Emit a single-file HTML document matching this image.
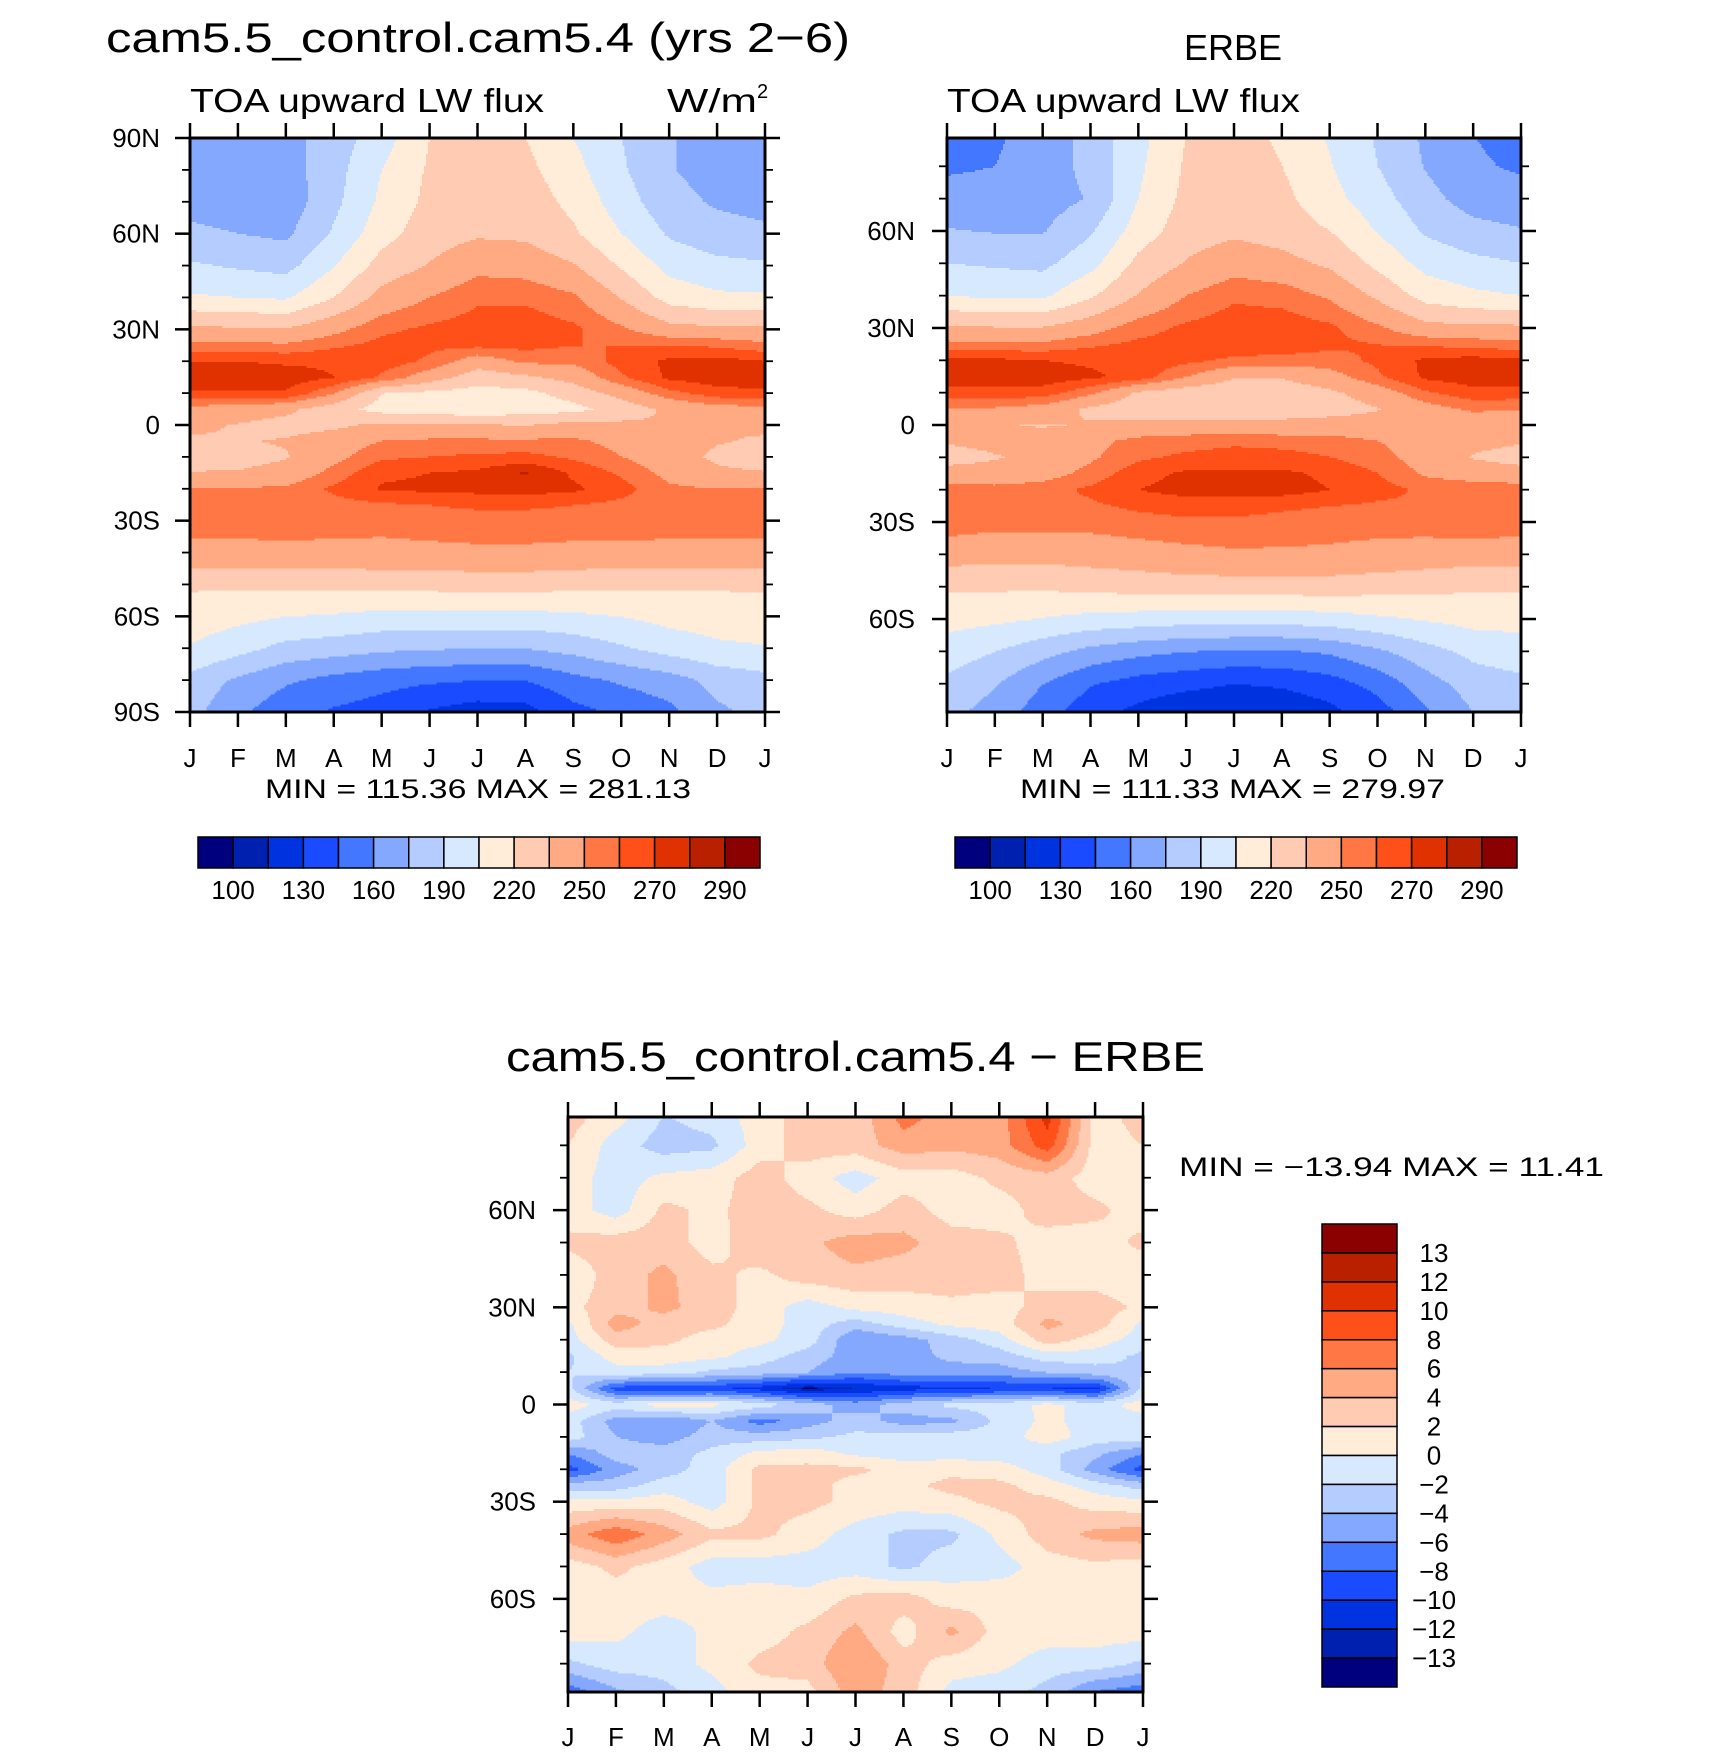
<!DOCTYPE html>
<html><head><meta charset="utf-8"><style>
html,body{margin:0;padding:0;background:#fff;}
svg{display:block;font-family:"Liberation Sans",sans-serif;}
</style></head><body>
<svg id="root" width="1710" height="1752" viewBox="0 0 1710 1752" xmlns="http://www.w3.org/2000/svg">
<text x="106" y="52" font-size="42" textLength="744" lengthAdjust="spacingAndGlyphs">cam5.5_control.cam5.4 (yrs 2−6)</text>
<text x="1233" y="60" font-size="36" text-anchor="middle">ERBE</text>
<text x="190" y="112" font-size="33" textLength="354" lengthAdjust="spacingAndGlyphs">TOA upward LW flux</text>
<text x="667" y="112" font-size="33" textLength="90" lengthAdjust="spacingAndGlyphs">W/m</text>
<text x="757" y="98" font-size="20">2</text>
<text x="947" y="112" font-size="33" textLength="353" lengthAdjust="spacingAndGlyphs">TOA upward LW flux</text>
<text x="265" y="798" font-size="27" textLength="426" lengthAdjust="spacingAndGlyphs">MIN = 115.36 MAX = 281.13</text>
<text x="1020" y="798" font-size="27" textLength="425" lengthAdjust="spacingAndGlyphs">MIN = 111.33 MAX = 279.97</text>
<text x="506" y="1071" font-size="42" textLength="699" lengthAdjust="spacingAndGlyphs">cam5.5_control.cam5.4 − ERBE</text>
<text x="1179" y="1176" font-size="27" textLength="425" lengthAdjust="spacingAndGlyphs">MIN = −13.94 MAX =  11.41</text>
<g id="plots"></g>
</svg>
<script>
const months = ["J","F","M","A","M","J","J","A","S","O","N","D","J"];
const lats = [90,80,70,60,50,40,30,25,20,15,10,5,0,-5,-10,-15,-20,-25,-30,-40,-50,-60,-70,-80,-90];
const fieldLevels = [100,115,130,145,160,175,190,205,220,235,250,260,270,280,290];
const fieldLevelLabels = ["100","130","160","190","220","250","270","290"];
const diffLevels = [-13,-12,-10,-8,-6,-4,-2,0,2,4,6,8,10,12,13];
const diffLevelLabels = ["13","12","10","8","6","4","2","0","−2","−4","−6","−8","−10","−12","−13"];
const palette = ["#00007f","#0020b0","#0033e0","#1a4bff","#4477ff","#85a8ff","#b4ccff","#d6e9ff","#ffecd9","#ffcbb2","#ffaa82","#ff7744","#ff5019","#e03200","#b82000","#8b0000"];
const latTicksModel = ["90N","60N","30N","0","30S","60S","90S"];
const latTickValsModel = [90,60,30,0,-30,-60,-90];
const latTicksObs = ["60N","30N","0","30S","60S"];
const latTickValsObs = [60,30,0,-30,-60];

const modelData = [
[165,165,170,182,198,220,226,220,205,190,176,168,165],
[166,166,168,184,205,222,228,224,210,192,176,169,166],
[170,168,166,186,208,224,230,228,216,197,180,173,170],
[178,175,172,192,214,228,233,232,222,205,188,181,178],
[192,188,185,204,226,236,246,244,236,218,200,194,192],
[207,205,203,220,240,250,258,258,252,234,214,208,207],
[238,237,236,246,258,262,265,266,262,252,240,238,238],
[253,253,252,258,263,262,262,263,260,260,260,258,253],
[270,270,268,268,265,258,242,252,252,264,272,274,270],
[276,277,276,270,258,242,226,232,240,258,272,276,276],
[268,268,268,250,220,216,214,215,226,240,256,265,268],
[245,242,238,226,214,211,210,212,215,226,238,244,245],
[238,234,230,232,238,236,236,234,240,238,236,236,238],
[233,234,236,242,250,252,252,252,252,246,242,236,233],
[226,230,234,246,258,260,262,263,258,250,242,232,226],
[236,236,240,254,268,270,272,281,268,258,246,238,236],
[250,251,252,262,271,272,273,274,272,264,252,250,250],
[254,254,255,256,258,260,262,262,260,257,254,254,254],
[255,255,256,255,254,255,255,255,255,255,255,255,255],
[246,246,246,246,246,247,248,248,247,247,246,246,246],
[222,222,223,224,225,225,226,226,224,223,222,222,222],
[213,209,205,203,200,200,200,200,202,205,210,212,213],
[204,195,185,182,178,176,175,175,180,188,196,202,204],
[185,172,162,155,150,147,145,145,155,162,168,180,185],
[180,163,150,143,138,128,122,124,140,148,156,172,180]
];
const obsData = [
[155,158,166,180,200,220,224,218,203,188,172,160,155],
[158,160,166,180,202,222,226,220,206,190,174,162,158],
[165,165,168,176,205,224,228,224,210,196,180,168,165],
[176,174,174,188,212,228,232,228,220,204,188,180,176],
[190,188,186,200,224,236,244,240,232,216,200,194,190],
[205,202,202,218,236,250,258,256,248,232,214,208,205],
[238,236,236,244,256,262,266,266,262,252,240,238,238],
[253,252,252,258,262,264,266,266,262,260,258,256,253],
[272,272,270,268,266,262,258,256,256,262,272,274,272],
[276,276,276,272,266,250,236,236,244,258,272,276,276],
[266,266,265,252,232,226,224,226,232,242,258,266,266],
[250,248,244,232,226,224,226,226,228,234,244,252,250],
[240,236,234,236,238,240,240,240,242,242,240,240,240],
[236,238,240,246,254,256,258,256,254,250,244,238,236],
[230,234,238,248,258,262,264,264,260,254,244,234,230],
[240,240,244,254,266,272,272,272,268,260,248,242,240],
[256,254,256,262,270,274,274,274,270,264,258,258,256],
[259,256,256,258,262,264,264,262,260,258,258,260,259],
[256,254,254,254,256,258,258,256,254,254,255,258,256],
[242,240,240,242,244,246,248,248,248,246,244,242,242],
[222,222,222,224,226,228,228,228,228,226,224,222,222],
[210,208,204,200,198,196,196,196,198,202,206,210,210],
[198,190,180,170,164,160,158,158,162,172,184,194,198],
[186,176,160,146,138,134,130,132,138,150,168,182,186],
[178,168,150,134,124,116,112,116,124,136,156,174,178]
];
const diffData = [
[3,1,-2,-1,1,3,2.5,7,5,5,11,1,3],
[2,-1,-3,-2.5,1,3,3,5,4.5,5,9,1,2],
[1,-1,0.5,1,3,1,-1,1,1,2.5,3,1,1],
[1,-1,2.5,1.5,3,2.5,1,3,1,1,3,2.5,1],
[2.5,3,3,1,3.5,3.5,5,4.5,3,2.5,1,1,2.5],
[0.5,3,4.5,2.5,1.5,3,3.5,3,3,3,1,1,0.5],
[1.5,3,4.5,3,1,-1,0.5,1,1.5,1,3,3,1.5],
[-0.5,5,3,2.5,1,-1,-3,-1,0.5,1,4.5,3,-0.5],
[-1,3,2.5,1,0.5,-1,-6,-5,-3,-1,3,1,-1],
[-2.5,1,1,0.5,-1,-3,-5,-5,-3.5,-3,-1,-1,-2.5],
[-2,-1,-1,-2.5,-3,-4,-6,-5,-5,-5,-4,-3,-2],
[-1.5,-9,-10,-9.5,-11,-13.5,-12,-11,-10.5,-10,-10,-11,-1.5],
[1,-1,1,0.5,-1,-3,-5,-3,-1.5,-1,0.5,-1,1],
[-1,-5,-6,-4,-7,-5,-3,-5,-4.5,-1.5,0.5,-1,-1],
[-1,-4,-5,-3,-3,-2.5,-1.5,-1,-1,-1,1,-1,-1],
[-6,-3,-3,-1.5,0.5,1,-0.5,-1,-1,-1,-1.5,-3.5,-6],
[-9,-5,-3,-1,2.5,2.5,2.5,1,1.5,1,-1,-5,-9],
[-3,-3,-1,-1,2.5,3,1,1.5,2.5,2.5,1,-1,-3],
[0.5,0.5,1,-1,2.5,2.5,1.5,1,1.5,2.5,2.5,1,0.5],
[5,7.5,5,2.5,2.5,1,-1,-2.5,-2.5,0.5,3,4.5,5],
[1,2.5,1,-1,-1,-1,-1,-2.5,-1,-1,1,1.5,1],
[0.5,1,1,0.5,1,0.5,2.5,3,1,1.5,1,1,0.5],
[1,0.5,-1,0.5,1,2.5,4.5,1,4.5,1,1,1,1],
[-2.5,-1,-1,0.5,2.5,3,6,3,1,0.5,-1,-1,-2.5],
[-8,-5,-3,-1,1,1,5,3,-1,-1.5,-3,-7,-8]
];

const NS = "http://www.w3.org/2000/svg";
const plots = document.getElementById('plots');
function mk(tag, attrs, parent){ const e=document.createElementNS(NS,tag); for(const k in attrs) e.setAttribute(k,attrs[k]); (parent||plots).appendChild(e); return e; }
function levelIndex(v, levels){ let i=0; while(i<levels.length && v>=levels[i]) i++; return i; }
function sample(data, mon, lat){
  let la = Math.max(-90, Math.min(90, lat));
  let r=0; while(r<lats.length-2 && la < lats[r+1]) r++;
  const t = (lats[r]-la)/(lats[r]-lats[r+1]);
  let m = Math.max(0, Math.min(12, mon)); let c = Math.min(11, Math.floor(m)); const s = m-c;
  const a = data[r][c]*(1-s)+data[r][c+1]*s;
  const b = data[r+1][c]*(1-s)+data[r+1][c+1]*s;
  return a*(1-t)+b*t;
}
function drawField(name, data, levels, x0, y0, w, h, latTop, latBot){
  const g = mk('g',{});
  
  
  const step=2;
  const paths = palette.map(()=>[]);
  for(let py=0; py<h; py+=step){
    const lat = latTop - (py+step/2)/h*(latTop-latBot);
    const hh = Math.min(step, h-py) + 0.6;
    let runStart=0, runIdx=-1;
    for(let px=0; ; px+=step){
      const end = px>=w;
      let idx=-2;
      if(!end){ const mon=Math.min(px+step/2,w)/w*12; idx=levelIndex(sample(data,mon,lat),levels); }
      if(idx!==runIdx){
        if(runIdx>=0){
          const ww = Math.min(px,w)-runStart+0.6;
          paths[runIdx].push('M'+(x0+runStart)+' '+(y0+py)+'h'+ww.toFixed(1)+'v'+hh.toFixed(1)+'h'+(-ww).toFixed(1)+'z');
        }
        runStart=px; runIdx=idx;
      }
      if(end) break;
    }
  }
  paths.forEach((p,i)=>{
    if(!p.length) return;
    const e = mk('path',{d:p.join(''),fill:palette[i],'shape-rendering':'crispEdges'},g);
    
    
  });
}
function drawAxes(name, x0,y0,w,h, latTop, latBot, tickLabels, tickVals, labelX, monthY){
  const g = mk('g',{});
  
  
  const yS = l => y0 + (latTop-l)/(latTop-latBot)*h;
  mk('rect',{x:x0,y:y0,width:w,height:h,fill:'none',stroke:'#000','stroke-width':3},g);
  for(let i=0;i<=12;i++){
    const x = x0 + i*w/12;
    mk('line',{x1:x,y1:y0-15,x2:x,y2:y0,stroke:'#000','stroke-width':2.5},g);
    mk('line',{x1:x,y1:y0+h,x2:x,y2:y0+h+15,stroke:'#000','stroke-width':2.5},g);
    const t = mk('text',{x:x,y:monthY,'font-size':26,'text-anchor':'middle'},g);
    t.textContent = months[i];
    
    
  }
  for(let l=-90;l<=90;l+=10){
    if(l>latTop+0.01 || l<latBot-0.01) continue;
    const y = yS(l); const major = (l%30===0);
    const len = major?15:8;
    mk('line',{x1:x0-len,y1:y,x2:x0,y2:y,stroke:'#000','stroke-width':major?2.5:1.8},g);
    mk('line',{x1:x0+w,y1:y,x2:x0+w+len,y2:y,stroke:'#000','stroke-width':major?2.5:1.8},g);
  }
  tickVals.forEach((v,i)=>{
    const t = mk('text',{x:labelX,y:yS(v)+9,'font-size':26,'text-anchor':'end'},g);
    t.textContent = tickLabels[i];
    
    
  });
}
function hColorbar(name, x0,y0,w,h, labels){
  const g = mk('g',{});
  
  
  const bw = w/palette.length;
  palette.forEach((c,i)=>{
    const r = mk('rect',{x:x0+i*bw,y:y0,width:bw,height:h,fill:c,stroke:'#000','stroke-width':1.5},g);
    
    
  });
  labels.forEach((s,k)=>{
    const t = mk('text',{x:x0+(2*k+1)*bw,y:y0+h+31,'font-size':26,'text-anchor':'middle'},g);
    t.textContent = s;
    
    
  });
}
function vColorbar(name, x0,y0,w,h, labels){
  const g = mk('g',{});
  
  
  const bh = h/palette.length;
  for(let i=0;i<palette.length;i++){
    const r = mk('rect',{x:x0,y:y0+i*bh,width:w,height:bh,fill:palette[palette.length-1-i],stroke:'#000','stroke-width':1.5},g);
    
    
  }
  labels.forEach((s,k)=>{
    const t = mk('text',{x:x0+w+37,y:y0+(k+1)*bh+9,'font-size':26,'text-anchor':'middle'},g);
    t.textContent = s;
    
    
  });
}
drawField('model', modelData, fieldLevels, 190, 138, 575, 574, 90, -90);
drawAxes('model', 190, 138, 575, 574, 90, -90, latTicksModel, latTickValsModel, 160, 767);
hColorbar('model-colorbar', 198, 837, 562, 31, fieldLevelLabels);
drawField('obs', obsData, fieldLevels, 947, 138, 574, 574, 88.75, -88.75);
drawAxes('obs', 947, 138, 574, 574, 88.75, -88.75, latTicksObs, latTickValsObs, 915, 767);
hColorbar('obs-colorbar', 955, 837, 562, 31, fieldLevelLabels);
drawField('diff', diffData, diffLevels, 568, 1117, 575, 575, 88.75, -88.75);
drawAxes('diff', 568, 1117, 575, 575, 88.75, -88.75, latTicksObs, latTickValsObs, 536, 1746);
vColorbar('diff-colorbar', 1322, 1224, 75, 463, diffLevelLabels);
</script>
</body></html>
